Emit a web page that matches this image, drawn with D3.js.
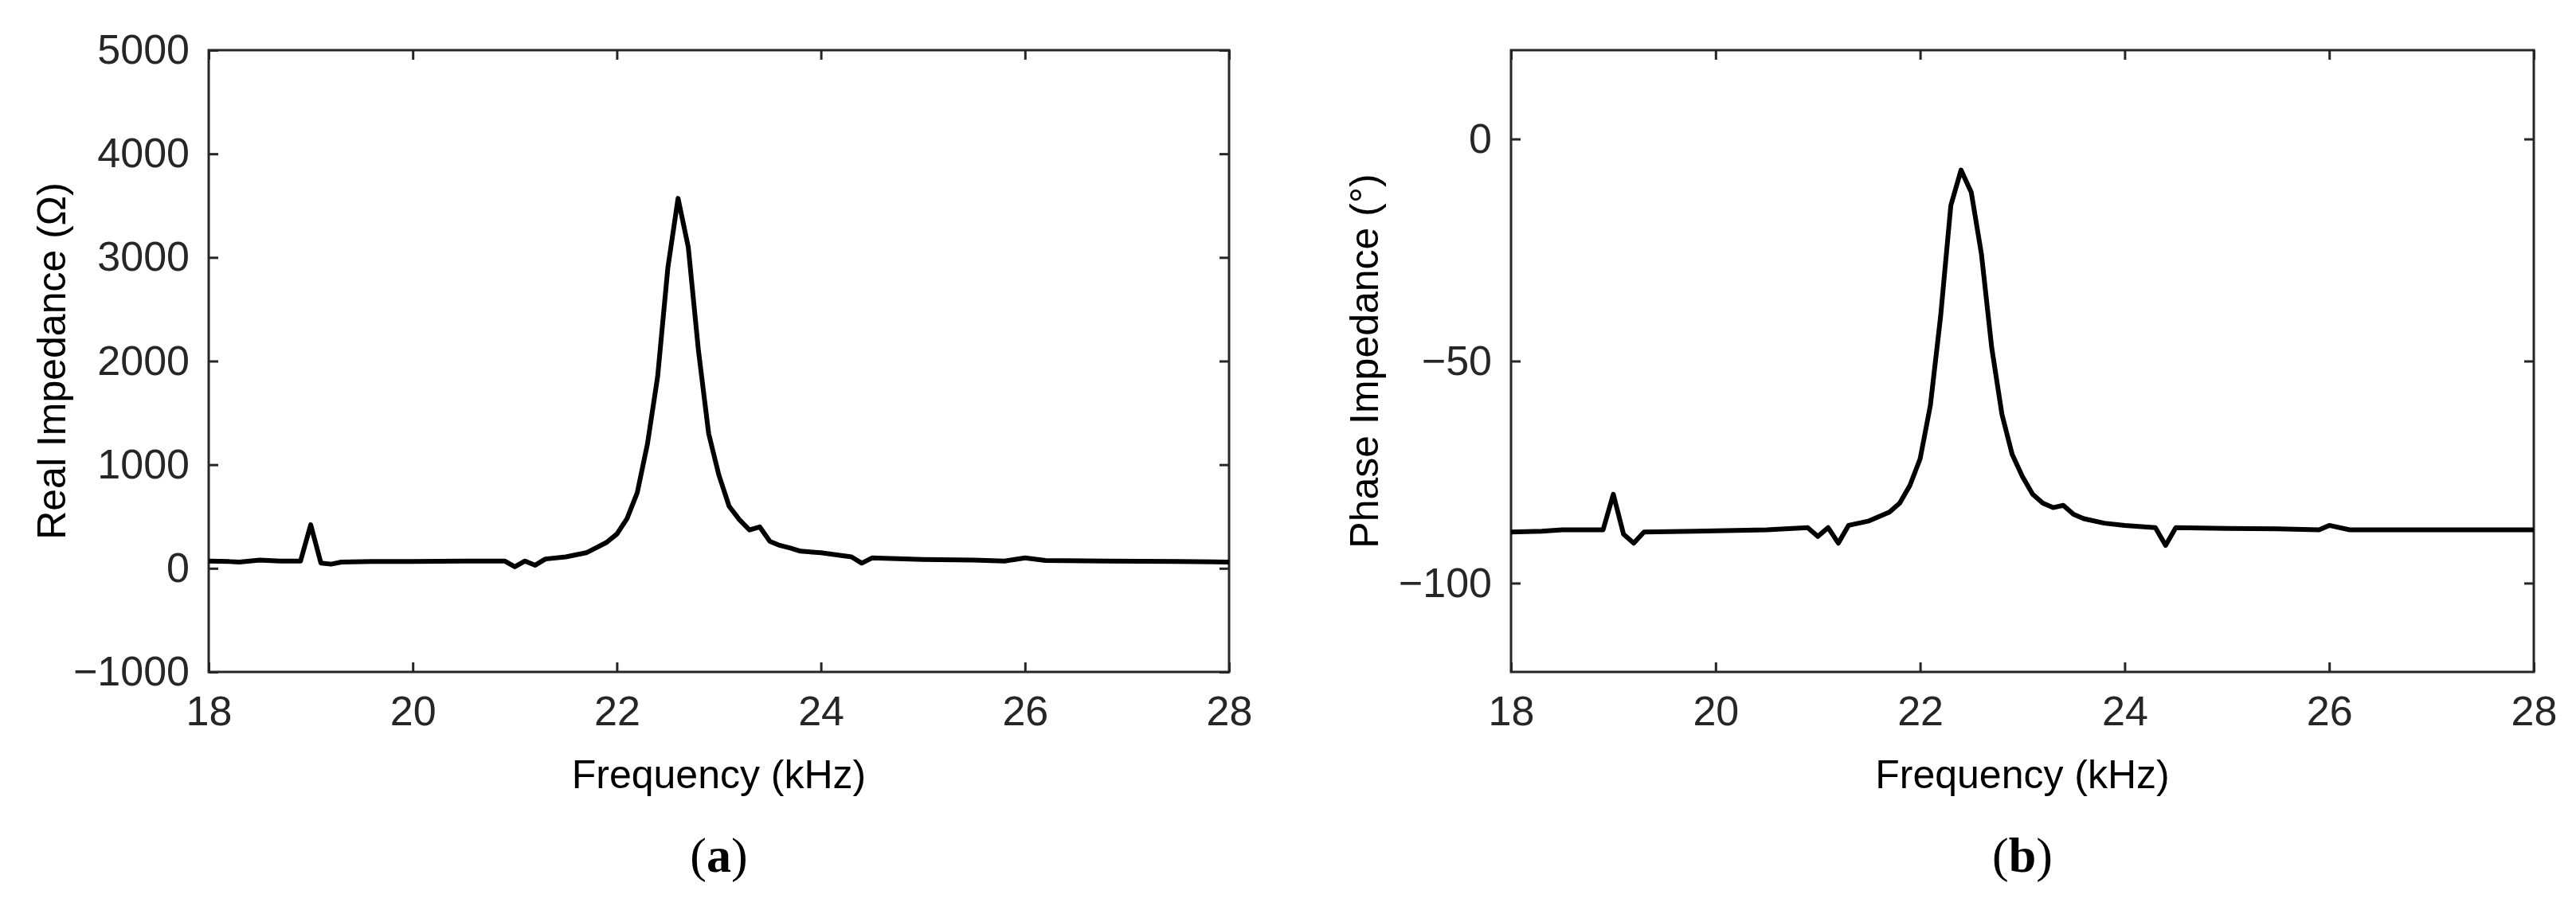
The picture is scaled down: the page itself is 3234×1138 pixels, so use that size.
<!DOCTYPE html>
<html>
<head>
<meta charset="UTF-8">
<script src="https://cdn.jsdelivr.net/npm/d3@7"></script>
<style>
  body { margin: 0; background: #fff; }
  .tick text { font-family: "Liberation Sans Narrow", "Liberation Sans", sans-serif; font-size: 52px; fill: #262626; }
</style>
</head>
<body>
<svg id="chart" width="3234" height="1138"></svg>
<script>
var freqA = [18.0,18.2,18.3,18.5,18.7,18.9,19.0,19.1,19.2,19.3,19.6,20.0,20.5,20.9,21.0,21.1,21.2,21.3,21.5,21.7,21.8,21.9,22.0,22.1,22.2,22.3,22.4,22.5,22.6,22.7,22.8,22.9,23.0,23.1,23.2,23.3,23.4,23.5,23.6,23.7,23.8,24.0,24.3,24.4,24.5,25.0,25.5,25.8,26.0,26.2,26.8,27.5,28.0];
var realZ = [70,65,60,80,70,70,420,50,40,60,65,65,70,70,15,70,30,90,110,150,200,250,330,480,730,1200,1850,2900,3570,3100,2100,1300,900,600,470,370,400,260,220,195,165,150,110,50,100,85,80,70,100,75,70,65,60];

var freqB = [18.0,18.3,18.5,18.9,19.0,19.1,19.2,19.3,19.8,20.5,20.9,21.0,21.1,21.2,21.3,21.5,21.7,21.8,21.9,22.0,22.1,22.2,22.3,22.4,22.5,22.6,22.7,22.8,22.9,23.0,23.1,23.2,23.3,23.4,23.5,23.6,23.8,24.0,24.3,24.4,24.5,25.0,25.5,25.9,26.0,26.2,27.0,28.0];
var phaseZ = [-88.5,-88.3,-88,-88,-80,-89,-91,-88.5,-88.3,-88,-87.5,-89.5,-87.5,-91,-87,-86,-84,-82,-78,-72,-60,-40,-15,-7,-12,-26,-47,-62,-71,-76,-80,-82,-83,-82.5,-84.5,-85.5,-86.5,-87,-87.5,-91.5,-87.5,-87.7,-87.8,-88,-87,-88,-88,-88];

var xTicks = [18,20,22,24,26,28];
var yTicksA = [-1000,0,1000,2000,3000,4000,5000];
var yTicksB = [-100,-50,0];

var svg = d3.select('#chart');
var plotTop = 63, plotBottom = 844;

function panel(opts) {
  var x = d3.scaleLinear().domain([18, 28]).range([opts.left, opts.right]);
  var y = d3.scaleLinear().domain(opts.yDomain).range([plotBottom, plotTop]);
  var g = svg.append('g');
  var tl = 12;

  g.append('g').attr('transform', 'translate(0,' + plotBottom + ')')
    .call(d3.axisBottom(x).tickValues(xTicks).tickSize(-tl).tickPadding(30).tickFormat(d3.format('d')));
  g.append('g').attr('transform', 'translate(0,' + plotTop + ')')
    .call(d3.axisTop(x).tickValues(xTicks).tickSize(-tl).tickFormat(''));
  g.append('g').attr('transform', 'translate(' + opts.left + ',0)')
    .call(d3.axisLeft(y).tickValues(opts.yTicks).tickSize(-tl).tickPadding(24).tickFormat(d3.format('d')));
  g.append('g').attr('transform', 'translate(' + opts.right + ',0)')
    .call(d3.axisRight(y).tickValues(opts.yTicks).tickSize(-tl).tickFormat(''));
  g.selectAll('.domain').remove();
  g.selectAll('.tick line').attr('stroke', '#262626').attr('stroke-width', 3);
  g.append('rect').attr('x', opts.left).attr('y', plotTop)
    .attr('width', opts.right - opts.left).attr('height', plotBottom - plotTop)
    .attr('fill', 'none').attr('stroke', '#262626').attr('stroke-width', 3);

  var line = d3.line().x(function(d, i) { return x(opts.xs[i]); }).y(function(d) { return y(d); });
  g.append('path').datum(opts.ys).attr('d', line)
    .attr('fill', 'none').attr('stroke', '#000').attr('stroke-width', 6).attr('stroke-linejoin', 'round');

  g.append('text').attr('x', (opts.left + opts.right) / 2).attr('y', 990)
    .attr('text-anchor', 'middle').attr('font-family', 'Liberation Sans, Arial, sans-serif')
    .attr('font-size', 50).attr('fill', '#000').text('Frequency (kHz)');
  g.append('text').attr('transform', 'translate(' + opts.ylabX + ',' + (plotTop + plotBottom) / 2 + ') rotate(-90)')
    .attr('text-anchor', 'middle').attr('font-family', 'Liberation Sans, Arial, sans-serif')
    .attr('font-size', 50).attr('fill', '#000').text(opts.ylab);
  g.append('text').attr('x', (opts.left + opts.right) / 2).attr('y', 1095)
    .attr('text-anchor', 'middle').attr('font-family', 'Liberation Serif, serif')
    .attr('font-size', 62).attr('fill', '#000').html('(<tspan font-weight="bold">' + opts.cap + '</tspan>)');
}

panel({ left: 262, right: 1543, yDomain: [-1000, 5000], yTicks: yTicksA, xs: freqA, ys: realZ,
        ylab: 'Real Impedance (Ω)', ylabX: 82, cap: 'a' });
panel({ left: 1897, right: 3181, yDomain: [-120, 20], yTicks: yTicksB, xs: freqB, ys: phaseZ,
        ylab: 'Phase Impedance (°)', ylabX: 1730, cap: 'b' });
</script>
</body>
</html>
